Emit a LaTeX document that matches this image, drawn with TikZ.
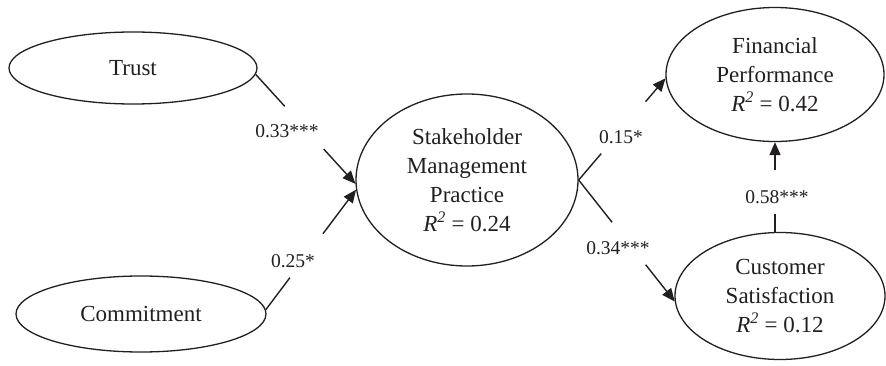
\documentclass[tikz,border=0pt]{standalone}
\usepackage{fontspec}
\setmainfont{Liberation Serif}
\usetikzlibrary{shapes.geometric,arrows.meta}
\definecolor{ink}{HTML}{231F20}
\tikzset{
  latent/.style={ellipse,draw=ink,line width=1.3pt,inner sep=0pt,align=center,
    font=\fontsize{23}{29}\selectfont,text=ink},
  path/.style={draw=ink,line width=1.4pt},
  arr/.style={path,-{Triangle[length=13pt,width=11pt]}},
  lbl/.style={font=\fontsize{19.5}{23}\selectfont,text=ink,inner sep=1pt}
}
\newcommand{\rsq}[1]{\textit{R\textsuperscript{2}} = #1}
\begin{document}
\begin{tikzpicture}[x=1pt,y=-1pt]
\useasboundingbox (0,0) rectangle (886,366);
\node[latent,minimum width=248pt,minimum height=72pt] (T) at (133,68) {Trust};
\node[latent,minimum width=250pt,minimum height=76pt] (M) at (141,314) {Commitment};
\node[latent,minimum width=222pt,minimum height=172pt] (S) at (467,180) {Stakeholder\\Management\\Practice\\\rsq{0.24}};
\node[latent,minimum width=218pt,minimum height=134pt] (F) at (775,74.5) {Financial\\Performance\\\rsq{0.42}};
\node[latent,minimum width=210pt,minimum height=127pt] (C) at (780,296) {Customer\\Satisfaction\\\rsq{0.12}};
% connectors (split around their labels)
\draw[path,shorten >=105pt] (T.-3) -- (S.182.5);
\draw[arr,shorten <=101pt] (T.-3) -- (S.182.5);
\draw[path,shorten >=110pt] (M.2) -- (S.185);
\draw[arr,shorten <=95pt] (M.2) -- (S.185);
\draw[path,shorten >=99pt] (S.0) -- (F.182);
\draw[arr,shorten <=103pt] (S.0) -- (F.182);
\draw[path,shorten >=101pt] (S.0) -- (C.183);
\draw[arr,shorten <=108pt] (S.0) -- (C.183);
\draw[path,shorten >=72pt] (C.north -| F.south) -- (F.south);
\draw[arr,shorten <=62pt] (C.north -| F.south) -- (F.south);
% labels
\node[lbl] (l1) at (287,131) {0.33***};
\node[lbl] (l2) at (293,261) {0.25*};
\node[lbl] (l3) at (621,137) {0.15*};
\node[lbl] (l4) at (618,248) {0.34***};
\node[lbl] (l5) at (777,197) {0.58***};
\end{tikzpicture}
\end{document}
